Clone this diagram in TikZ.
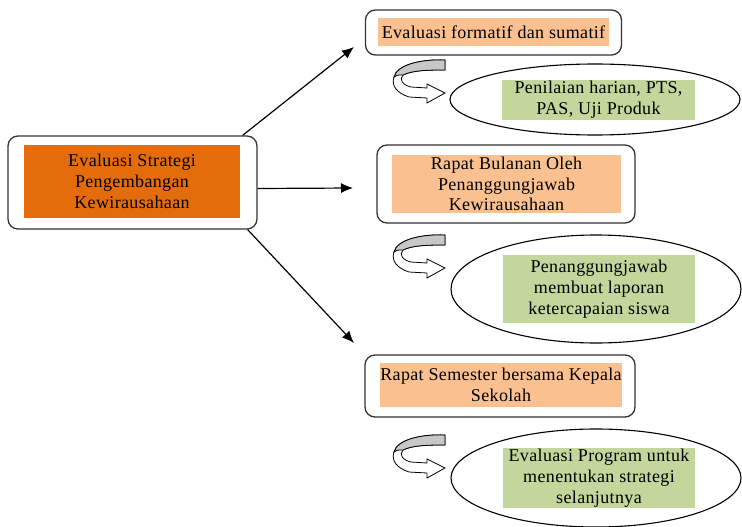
\documentclass[tikz,border=0pt]{standalone}
\usepackage{fontspec}
\setmainfont{Liberation Serif}[LetterSpace=2]
\usepackage{xcolor}
\usepackage{tikz}
\usetikzlibrary{arrows.meta,shapes.geometric}
\definecolor{deeporange}{HTML}{E46C0A}
\definecolor{peach}{HTML}{FAC090}
\definecolor{olivegreen}{HTML}{C3D69B}

\begin{document}
\begin{tikzpicture}[
  x=1pt,
  y=-1pt,
  txt/.style={font=\fontsize{18}{20.8}\selectfont, align=center, inner sep=0pt},
  frame/.style={draw=black!80, line width=1.3pt, rounded corners=10pt, fill=white},
  mainfill/.style={txt, fill=deeporange},
  stepfill/.style={txt, fill=peach},
  resultfill/.style={txt, fill=olivegreen},
  oval/.style={ellipse, draw, line width=1.1pt, fill=white, inner sep=0pt},
  link/.style={line width=1.2pt, -{Latex[length=12pt,width=10pt]}},
  curl/.pic={
    \filldraw[fill=white, line width=0.8pt] (60,5) .. controls (35,4) and (12,10) .. (9,22)
      .. controls (6,31) and (12,38) .. (24,42) -- (42,43) -- (42,48) -- (60,38) -- (42,29)
      -- (42,33) -- (26,32) .. controls (17,30) and (14,24) .. (18,20)
      .. controls (28,15) and (45,15) .. (60,15) -- cycle;
    \filldraw[fill=black!22, line width=0.8pt] (60,5) .. controls (35,4) and (12,10) .. (9,22)
      .. controls (12,20) .. (18,20) .. controls (28,15) and (45,15) .. (60,15) -- cycle;
  }
]
\useasboundingbox (0,0) rectangle (742,527);

% main box
\node[frame, minimum width=249, minimum height=93] (main) at (132.5,182.5) {};
\node[mainfill, minimum width=216, minimum height=73] (mainin) at (132,181.5)
  {Evaluasi Strategi\\Pengembangan\\Kewirausahaan};

% steps
\node[frame, minimum width=256, minimum height=45] (box1) at (493.5,32.5) {};
\node[stepfill, minimum width=231, minimum height=28] (box1in) at (493.5,32)
  {Evaluasi formatif dan sumatif};
\node[frame, minimum width=258, minimum height=78] (box2) at (506,184) {};
\node[stepfill, minimum width=229, minimum height=58] (box2in) at (506.5,184)
  {Rapat Bulanan Oleh\\Penanggungjawab\\Kewirausahaan};
\node[frame, minimum width=270, minimum height=62] (box3) at (500,386) {};
\node[stepfill, minimum width=240, minimum height=44] (box3in) at (501,385)
  {Rapat Semester bersama Kepala\\Sekolah};

% results
\node[oval, minimum width=290, minimum height=71] (res1) at (595,99.5) {};
\node[resultfill, minimum width=193, minimum height=40] (res1in) at (598.5,100)
  {Penilaian harian, PTS,\\PAS, Uji Produk};
\node[oval, minimum width=290, minimum height=108] (res2) at (596,289) {};
\node[resultfill, minimum width=192, minimum height=68] (res2in) at (599,289)
  {Penanggungjawab\\membuat laporan\\ketercapaian siswa};
\node[oval, minimum width=290, minimum height=98] (res3) at (596,478) {};
\node[resultfill, minimum width=192, minimum height=60] (res3in) at (599,478)
  {Evaluasi Program untuk\\menentukan strategi\\selanjutnya};

% curled arrows
\pic at (385,55) {curl};
\pic at (385,230) {curl};
\pic at (385,430) {curl};

% connectors
\coordinate (tip1) at (354,47);
\coordinate (tip2) at (353,188);
\coordinate (tip3) at (354,343);
\draw[link] ([xshift=-15pt]main.north east) -- (tip1);
\draw[link] ([yshift=-6pt]main.east) -- (tip2);
\draw[link] ([xshift=-10pt]main.south east) -- (tip3);
\end{tikzpicture}
\end{document}
